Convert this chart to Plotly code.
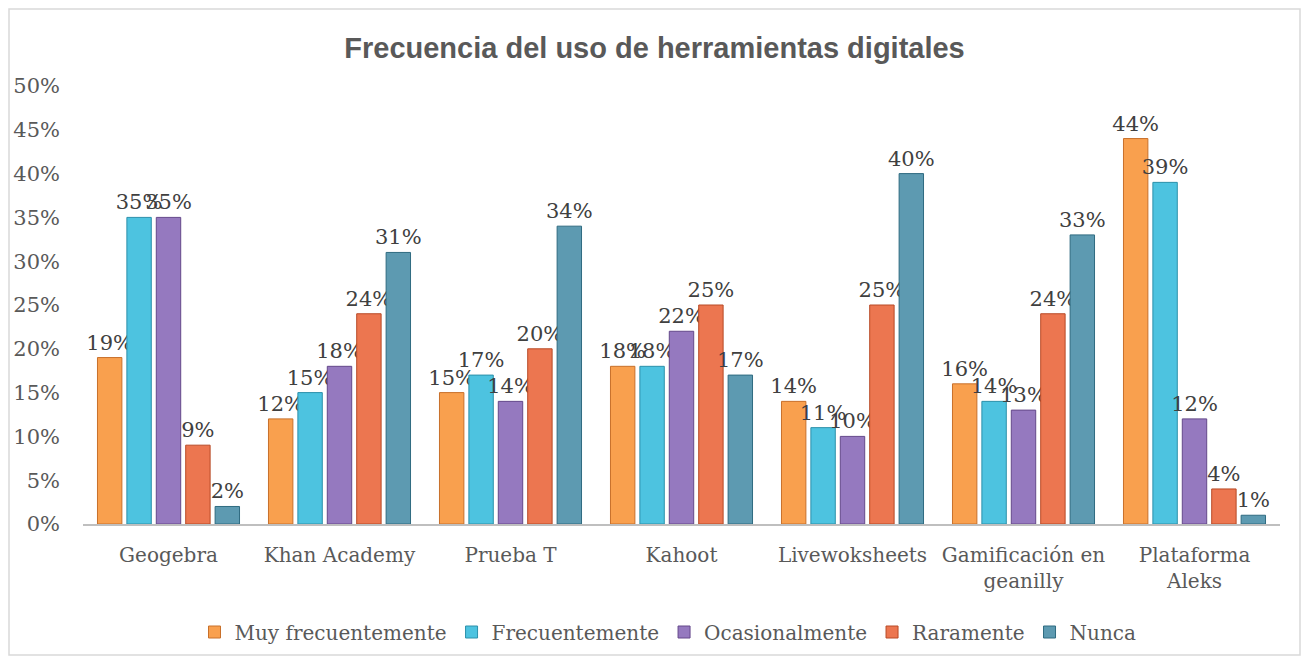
import plotly.graph_objects as go

categories = ["Geogebra", "Khan Academy", "Prueba T", "Kahoot", "Livewoksheets",
              "Gamificación en<br>geanilly", "Plataforma<br>Aleks"]
series_names = ["Muy frecuentemente", "Frecuentemente", "Ocasionalmente", "Raramente", "Nunca"]
muy_frecuentemente = [0.19, 0.12, 0.15, 0.18, 0.14, 0.16, 0.44]
frecuentemente = [0.35, 0.15, 0.17, 0.18, 0.11, 0.14, 0.39]
ocasionalmente = [0.35, 0.18, 0.14, 0.22, 0.10, 0.13, 0.12]
raramente = [0.09, 0.24, 0.20, 0.25, 0.25, 0.24, 0.04]
nunca = [0.02, 0.31, 0.34, 0.17, 0.40, 0.33, 0.01]
y_ticks = [0, 0.05, 0.10, 0.15, 0.20, 0.25, 0.30, 0.35, 0.40, 0.45, 0.50]

colors = ["#F9A04E", "#4DC3E0", "#9579BF", "#EC7650", "#5D9AB1"]
lines = ["#C8702A", "#2C90AA", "#64488A", "#B84A26", "#2F6B80"]

SERIF = "DejaVu Serif, Liberation Serif, serif"

fig = go.Figure()
for name, vals, c, lc in zip(series_names,
                             [muy_frecuentemente, frecuentemente, ocasionalmente, raramente, nunca],
                             colors, lines):
    fig.add_trace(go.Bar(
        name=name, x=categories, y=vals,
        marker=dict(color=c, line=dict(color=lc, width=1)),
        text=[f"{round(v*100)}%" for v in vals],
        textposition="outside", constraintext="none", cliponaxis=False,
        textfont=dict(family=SERIF, size=21, color="#404040"),
    ))

W, H = 1293, 648
ml, mr, mt, mb = 75, 21, 78, 132
pw, ph = W - ml - mr, H - mt - mb

fig.update_layout(
    width=W, height=H,
    margin=dict(l=ml, r=mr, t=mt, b=mb),
    paper_bgcolor="white", plot_bgcolor="white",
    barmode="group", bargap=0.14, bargroupgap=0.17,
    title=dict(text="<b>Frecuencia del uso de herramientas digitales</b>",
               x=0.5, xref="container", xanchor="center", y=1 - 40 / H, yanchor="middle",
               font=dict(family="Liberation Sans, Arial, sans-serif", size=29, color="#595959")),
    font=dict(family=SERIF, color="#595959"),
    legend=dict(orientation="h", x=(660 - ml) / pw, xanchor="center",
                yref="container", y=(H - 624) / H, yanchor="middle",
                font=dict(family=SERIF, size=20, color="#595959"), itemwidth=30,
                traceorder="normal"),
    xaxis=dict(showline=True, linecolor="#BFBFBF", linewidth=2, ticks="", automargin=False,
               ticklabelstandoff=12,
               tickfont=dict(family=SERIF, size=20, color="#595959")),
    yaxis=dict(range=[0, 0.5], tickvals=y_ticks, tickformat=".0%", showgrid=False,
               zeroline=False, showline=False, ticklabelstandoff=22, automargin=False,
               tickfont=dict(family=SERIF, size=21, color="#595959")),
    shapes=[dict(type="rect", xref="paper", yref="paper",
                 x0=(1 - ml) / pw, x1=(W - 1 - ml) / pw,
                 y0=-(H - 1 - (H - mb)) / ph, y1=(H - mb - 1) / ph,
                 line=dict(color="#D9D9D9", width=1.5), fillcolor="rgba(0,0,0,0)", layer="below")],
)

fig.write_html("out.html")
